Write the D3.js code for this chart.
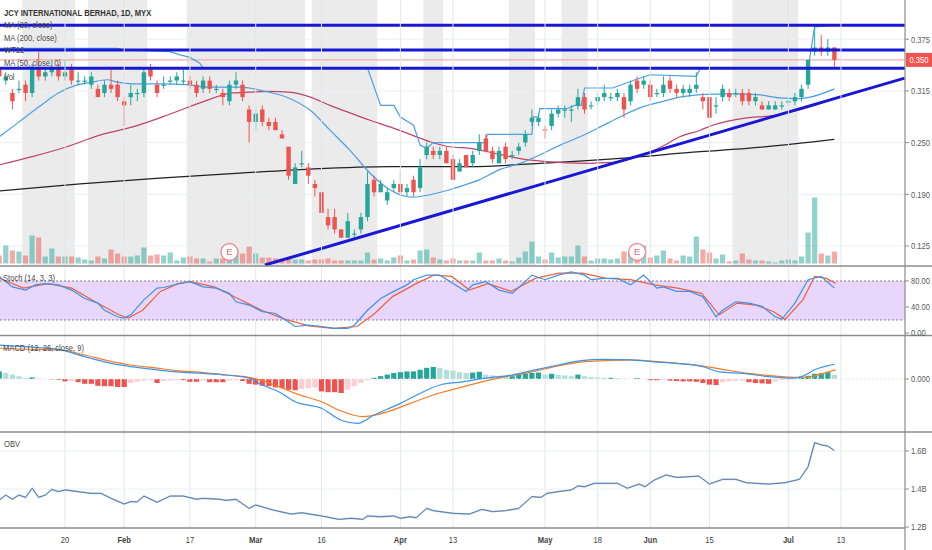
<!DOCTYPE html>
<html>
<head>
<meta charset="utf-8">
<script src="https://cdn.jsdelivr.net/npm/d3@7"></script>
<style>
body { margin: 0; background: #fff; }
text { font-family: "Liberation Sans", Arial, sans-serif; }
</style>
</head>
<body>
<div id="chart"></div>
<script>
// ---- data (bar index 0 = 6 Jan 2020, 127 = 10 Jul 2020) ----
var open = [0.340,0.325,0.310,0.315,0.320,0.310,0.340,0.330,0.335,0.340,
  0.330,0.340,0.325,0.325,0.320,0.315,0.310,0.320,0.320,0.300,
  0.305,0.310,0.310,0.340,0.320,0.320,0.325,0.325,0.325,0.325,
  0.320,0.315,0.325,0.315,0.310,0.300,0.320,0.320,0.290,0.275,
  0.290,0.275,0.275,0.260,0.245,0.200,0.225,0.220,0.200,0.190,
  0.160,0.160,0.145,0.135,0.140,0.145,0.160,0.205,0.190,0.180,
  0.195,0.200,0.190,0.205,0.195,0.235,0.240,0.235,0.240,0.230,
  0.215,0.235,0.225,0.240,0.255,0.240,0.225,0.245,0.235,0.240,
  0.250,0.275,0.275,0.266,0.270,0.285,0.290,0.290,0.295,0.305,
  0.295,0.300,0.305,0.305,0.305,0.305,0.300,0.325,0.320,0.320,
  0.310,0.310,0.325,0.315,0.310,0.310,0.315,0.305,0.305,0.295,
  0.305,0.310,0.310,0.310,0.310,0.300,0.295,0.290,0.290,0.295,
  0.300,0.300,0.305,0.320,0.360,0.365,0.360,0.365];
var high = [0.345,0.335,0.315,0.325,0.325,0.345,0.360,0.340,0.350,0.345,
  0.350,0.345,0.335,0.330,0.335,0.320,0.325,0.340,0.325,0.305,
  0.320,0.315,0.340,0.345,0.325,0.330,0.330,0.335,0.340,0.330,
  0.325,0.330,0.330,0.320,0.315,0.325,0.335,0.325,0.295,0.290,
  0.295,0.280,0.280,0.265,0.245,0.225,0.240,0.225,0.205,0.190,
  0.170,0.170,0.145,0.165,0.145,0.165,0.215,0.210,0.205,0.195,
  0.205,0.215,0.200,0.210,0.230,0.250,0.245,0.245,0.245,0.235,
  0.230,0.235,0.240,0.260,0.260,0.245,0.245,0.250,0.240,0.250,
  0.265,0.290,0.285,0.270,0.290,0.295,0.295,0.295,0.315,0.310,
  0.300,0.310,0.320,0.310,0.315,0.310,0.325,0.330,0.330,0.325,
  0.315,0.330,0.330,0.320,0.320,0.320,0.335,0.310,0.305,0.305,
  0.320,0.315,0.315,0.315,0.315,0.310,0.300,0.300,0.300,0.300,
  0.305,0.310,0.320,0.350,0.390,0.380,0.375,0.365];
var low = [0.325,0.320,0.290,0.310,0.300,0.305,0.325,0.325,0.330,0.325,
  0.325,0.320,0.320,0.320,0.315,0.305,0.305,0.310,0.300,0.270,
  0.295,0.300,0.305,0.325,0.305,0.315,0.320,0.320,0.320,0.315,
  0.305,0.310,0.310,0.310,0.295,0.295,0.315,0.300,0.250,0.265,
  0.270,0.265,0.265,0.255,0.205,0.200,0.220,0.200,0.185,0.165,
  0.145,0.140,0.135,0.135,0.135,0.140,0.155,0.185,0.190,0.175,
  0.190,0.185,0.185,0.185,0.190,0.230,0.230,0.230,0.225,0.205,
  0.215,0.220,0.220,0.235,0.240,0.225,0.225,0.225,0.230,0.235,
  0.245,0.270,0.270,0.255,0.265,0.280,0.280,0.275,0.290,0.285,
  0.290,0.295,0.300,0.300,0.300,0.280,0.295,0.310,0.315,0.300,
  0.305,0.305,0.310,0.305,0.305,0.305,0.310,0.290,0.280,0.285,
  0.300,0.300,0.305,0.295,0.295,0.295,0.290,0.290,0.290,0.290,
  0.295,0.295,0.300,0.315,0.355,0.355,0.355,0.340];
var close = [0.330,0.330,0.300,0.315,0.310,0.340,0.330,0.335,0.340,0.330,
  0.335,0.325,0.325,0.325,0.330,0.305,0.320,0.315,0.305,0.295,
  0.310,0.310,0.335,0.330,0.310,0.320,0.325,0.330,0.325,0.320,
  0.310,0.325,0.315,0.315,0.305,0.320,0.325,0.305,0.275,0.285,
  0.275,0.270,0.265,0.255,0.210,0.220,0.225,0.210,0.195,0.165,
  0.150,0.145,0.135,0.155,0.140,0.160,0.200,0.190,0.200,0.190,
  0.200,0.190,0.195,0.190,0.220,0.245,0.235,0.240,0.225,0.205,
  0.225,0.220,0.235,0.250,0.240,0.230,0.240,0.230,0.235,0.245,
  0.260,0.280,0.280,0.265,0.285,0.290,0.290,0.290,0.305,0.290,
  0.295,0.305,0.310,0.305,0.310,0.290,0.320,0.315,0.325,0.305,
  0.310,0.320,0.315,0.310,0.315,0.315,0.320,0.300,0.280,0.295,
  0.315,0.305,0.310,0.300,0.300,0.305,0.290,0.295,0.295,0.295,
  0.300,0.305,0.315,0.350,0.365,0.360,0.365,0.350];
var volume = [8,18,13,12,8,28,26,7,15,7, 7,7,6,4,3,7,5,14,10,7,
  7,8,16,8,9,8,11,3,6,7, 5,5,2,5,5,10,14,10,17,10,
  6,6,5,5,6,4,4,3,4,4, 5,3,3,3,3,3,11,4,5,3,
  6,8,3,4,13,14,6,4,3,5, 3,3,3,11,3,3,5,3,2,6,
  12,22,7,4,11,6,7,7,18,7, 3,5,5,4,5,12,13,10,18,6,
  8,13,5,3,8,7,27,14,11,5, 9,2,3,10,4,3,3,2,1,3,
  4,3,7,31,66,10,8,12];

var tickIndex = [10,19,29,39,49,61,69,83,91,99,108,120,128];
var tickLabel = ["20","Feb","17","Mar","16","Apr","13","May","18","Jun","15","Jul","13"];
var priceTicks = [0.125,0.1875,0.25,0.3125,0.375];
var priceTickLabels = ["0.125","0.190","0.250","0.315","0.375"];
var lastPrice = 0.350;

var ma20 = [[0,0.257],[3,0.275],[6,0.293],[9,0.310],[12,0.320],[14,0.323],[16.4,0.326],[18,0.323],
  [20.3,0.321],[24.4,0.321],[28.5,0.320],[31.6,0.317],[36.6,0.317],[38,0.316],[41,0.311],[44,0.304],
  [47.3,0.289],[50.3,0.265],[53.3,0.241],[56.4,0.213],[59.4,0.193],[62.9,0.184],[65.5,0.187],[68.5,0.193],
  [71.6,0.201],[73,0.205],[76,0.217],[79.2,0.225],[82.2,0.235],[85.3,0.247],[88.3,0.257],[91.4,0.269],
  [94.4,0.281],[97.4,0.292],[100.5,0.299],[103.5,0.305],[106.6,0.308],[111,0.309],[115.2,0.308],
  [118.7,0.304],[121.3,0.303],[123.3,0.305],[127,0.315]];
var ma50 = [[0,0.223],[5,0.233],[10.3,0.245],[15.3,0.259],[20.3,0.269],[25.5,0.283],[30.5,0.298],
  [35.5,0.310],[38,0.311],[41,0.312],[44,0.311],[47.3,0.305],[50.3,0.295],[53.3,0.286],[56.4,0.277],
  [59.4,0.269],[62.5,0.260],[65.5,0.251],[68.5,0.245],[71.6,0.243],[76,0.236],[79,0.231],[83.3,0.227],
  [89.4,0.225],[93.3,0.226],[97.4,0.234],[100.5,0.244],[103.5,0.257],[106.6,0.265],[108.5,0.271],
  [113.7,0.280],[117,0.282],[122,0.290],[127,0.303]];
var ma200 = [[0,0.1915],[12.3,0.200],[24.4,0.207],[36.6,0.213],[47.3,0.218],[59.4,0.221],[71.6,0.221],
  [82.2,0.225],[94.4,0.231],[106.6,0.239],[113.7,0.243],[127,0.254]];
var wt12 = [[0,0.364],[18,0.364],[19,0.362],[26,0.360],[27.5,0.356],[29,0.353],[30.5,0.346],[31,0.340],
  [56,0.340],[58,0.295],[60,0.295],[61,0.281],[63,0.271],[64,0.247],[65,0.243],[66,0.250],[74,0.250],
  [74.2,0.260],[81,0.260],[81.2,0.281],[82,0.281],[82.2,0.291],[86.3,0.291],[87.5,0.295],[88.5,0.295],
  [89,0.316],[93.3,0.316],[96.7,0.326],[99,0.332],[106,0.330],[106.6,0.340],[123,0.340],[124,0.390],[127,0.392]];
var levels = [0.392,0.362,0.340];
var trendline = [[40.4,0.102],[137.7,0.328]];
var bands = [[4,11],[14,22],[29,46],[48,57],[65,67],[78,81],[86,89],[112,121]];
var earnings = [35,97];

var stochK = [[0,87],[2,71],[4,66],[5.5,74],[7,76],[9,74],[11,66],[13,53],[15,46],[16,35],[18,25],[19,23],
  [20,28],[22,51],[24,69],[25,70],[27,75],[29,79],[31,71],[33,69],[35,61],[36,48],[38,43],[40,33],[42,30],
  [44,17],[45,10],[47,12],[49,10],[51,7],[53,7],[54,12],[56,35],[58,53],[60,64],[62,74],[63,82],[65,89],
  [67,89],[69,76],[71,64],[72,74],[74,79],[76,66],[78,61],[80,79],[81,89],[83,82],[85,89],[87,94],[89,89],
  [90,82],[92,84],[94,84],[96,74],[98,89],[100,69],[101,71],[103,64],[105,64],[107,56],[109,25],[110,35],
  [112,48],[114,46],[116,41],[118,25],[119,21],[121,46],[123,82],[125,87],[127,69]];
var stochD = [[0,84],[3.7,69],[7.4,76],[11,69],[14.6,48],[18.2,28],[19.6,23],[21.8,35],[24.5,64],[27.2,76],
  [29,79],[32.7,71],[36.3,53],[39.9,35],[43.5,21],[47.1,11],[50.8,7],[54.4,10],[57.1,30],[59.8,56],[63.4,76],
  [66.1,89],[68.8,87],[71.5,66],[74.3,76],[77.9,64],[81.5,84],[85.1,92],[88.7,92],[92.3,84],[96,82],[99.6,74],
  [103.2,69],[106.8,61],[109.5,28],[112.2,46],[115,43],[117.7,33],[119.5,21],[122.2,51],[124,87],[125.8,84],[127.2,76]];

var macdLine = [[0,.0085],[5.5,.0079],[9,.0074],[13,.0056],[16,.0043],[20,.0031],[24,.0023],[27,.0018],
  [31,.0014],[34.5,.0010],[38,.0002],[40,-.0015],[42.5,-.0032],[45,-.0057],[49,-.0073],[52,-.0103],
  [54.5,-.0111],[57,-.0090],[61,-.0061],[63.5,-.0040],[67,-.0015],[70.5,-.0007],[74,.0002],[78,.0010],
  [81.5,.0023],[85,.0035],[88.5,.0046],[92,.0049],[96,.0048],[99.5,.0043],[103,.0039],[107,.0031],
  [109.5,.0018],[113,.0014],[117,.0006],[120.5,.0002],[122,.0006],[124,.0023],[126.5,.0035],[127,.0037]];
var macdSignal = [[0,.0077],[5.5,.0074],[9,.0073],[13,.0060],[16,.0048],[20,.0035],[24,.0027],[27,.0021],
  [31,.0016],[34.5,.0010],[38,.0004],[40,-.0004],[42.5,-.0019],[45,-.0036],[49,-.0057],[51.7,-.0078],
  [55.3,-.0094],[59,-.0082],[62.5,-.0061],[66,-.0040],[69.7,-.0023],[73.4,-.0007],[77,.0006],[80.6,.0016],
  [85,.0033],[88.7,.0043],[92.3,.0046],[96,.0048],[99.6,.0044],[103.2,.0039],[106.8,.0033],[110.4,.0023],
  [114,.0014],[117.7,.0008],[121.3,.0004],[124,.0008],[126.7,.0021],[127.2,.0023]];
var macdHist = [.0019,.0015,.0011,.0007,.0003,.0004,.0001,.0000,-.0001,-.0002,
  -.0006,-.0005,-.0008,-.0012,-.0012,-.0017,-.0018,-.0018,-.0020,-.0020,
  -.0010,-.0007,-.0004,-.0003,-.0010,-.0005,-.0004,-.0003,-.0003,-.0007,
  -.0007,-.0004,-.0008,-.0008,-.0008,-.0004,-.0003,-.0005,-.0012,-.0014,
  -.0017,-.0018,-.0021,-.0023,-.0027,-.0028,-.0025,-.0023,-.0021,-.0031,
  -.0033,-.0033,-.0035,-.0027,-.0018,-.0010,-.0003,.0003,.0007,.0011,
  .0015,.0017,.0019,.0019,.0023,.0028,.0030,.0028,.0023,.0021,
  .0017,.0015,.0016,.0018,.0011,.0009,.0008,.0007,.0007,.0011,
  .0013,.0015,.0016,.0011,.0013,.0010,.0009,.0007,.0011,.0007,
  .0005,.0004,.0003,.0003,.0002,.0001,.0000,.0002,.0000,-.0003,
  -.0003,-.0002,-.0004,-.0005,-.0006,-.0006,-.0007,-.0010,-.0014,-.0015,
  -.0008,-.0006,-.0005,-.0004,-.0008,-.0010,-.0011,-.0012,-.0006,-.0003,
  -.0002,-.0001,.0003,.0008,.0013,.0015,.0017,.0011];

var obv = [[0,1.342],[1,1.368],[2,1.346],[3,1.368],[4,1.356],[5,1.404],[6,1.356],[7,1.368],[8,1.398],
  [9,1.386],[10,1.395],[12,1.386],[14,1.377],[15.5,1.377],[17,1.351],[19,1.321],[20,1.333],[21,1.333],
  [22,1.363],[24,1.330],[26,1.363],[28,1.363],[30,1.346],[31,1.351],[33.5,1.346],[34.5,1.340],[36,1.346],
  [38,1.298],[39,1.316],[41.7,1.289],[44.4,1.268],[46,1.275],[49,1.258],[51.7,1.240],[53.5,1.246],
  [55.3,1.240],[56,1.258],[58,1.254],[60,1.258],[61,1.246],[62.5,1.254],[63.4,1.249],[65,1.298],[66,1.286],
  [69,1.272],[71.5,1.268],[73.4,1.293],[75,1.281],[77,1.286],[79,1.298],[81,1.360],[82.4,1.356],[83.3,1.377],
  [85,1.386],[87,1.395],[88,1.416],[89,1.412],[90.5,1.430],[94,1.430],[95.5,1.404],[97.3,1.426],[98.2,1.412],
  [99.6,1.447],[101.4,1.474],[103,1.461],[105,1.465],[106.4,1.468],[108,1.426],[110,1.451],[112,1.451],
  [113.6,1.433],[117,1.426],[119.5,1.433],[121.7,1.451],[123,1.517],[124,1.644],[125,1.632],[126,1.626],[127,1.602]];

// ---- layout ----
var chart_width = 932, chart_height = 550;
var plot_right = 905;
var up_col = "#26a69a", down_col = "#ef5350";
var line_blue = "#1717d6";

var x = d3.scaleLinear().domain([0, 128]).range([-0.76, 840.97]);
var yPrice = d3.scaleLinear().domain([0.125, 0.375]).range([246, 39.2]);
var yVol = d3.scaleLinear().domain([0, 66]).range([263.5, 197.5]);
var yStoch = d3.scaleLinear().domain([0, 100]).range([333, 268]);
var yMacd = d3.scaleLinear().domain([0, 0.01]).range([379, 339]);
var yObv = d3.scaleLinear().domain([1.2, 1.6]).range([527, 451]);

var svg = d3.select("#chart").append("svg")
  .attr("width", chart_width).attr("height", chart_height)
  .style("display", "block");

var defs = svg.append("defs");
function clip(id, y0, y1){
  defs.append("clipPath").attr("id", id).append("rect")
    .attr("x", 0).attr("y", y0).attr("width", plot_right).attr("height", y1 - y0);
}
clip("c-main", 0, 266); clip("c-stoch", 267, 335); clip("c-macd", 336, 432); clip("c-obv", 433, 528);

// squeezed text, like the screenshot
function label(parent, px, py, s, o){
  o = o || {};
  return parent.append("text")
    .attr("transform", "translate(" + px + "," + py + ") scale(0.8,1)")
    .attr("text-anchor", o.anchor || "start")
    .attr("font-size", o.size || 9.5)
    .attr("font-weight", o.weight || "normal")
    .attr("fill", o.color || "#4a4a4a")
    .text(s);
}

// ---- main pane ----
var main = svg.append("g").attr("clip-path", "url(#c-main)");

main.selectAll("rect.band").data(bands).enter().append("rect")
  .attr("x", function(d){ return x(d[0] - 0.5); })
  .attr("width", function(d){ return x(d[1] + 0.5) - x(d[0] - 0.5); })
  .attr("y", 0).attr("height", 266).attr("fill", "#ebebeb");

// grid
svg.append("g").selectAll("line").data(tickIndex).enter().append("line")
  .attr("x1", function(d){ return x(d); }).attr("x2", function(d){ return x(d); })
  .attr("y1", 0).attr("y2", 528).attr("stroke", "#e3e6eb").attr("stroke-width", 1);
main.selectAll("line.hg").data(priceTicks).enter().append("line")
  .attr("x1", 0).attr("x2", plot_right)
  .attr("y1", function(d){ return yPrice(d); }).attr("y2", function(d){ return yPrice(d); })
  .attr("stroke", "#eceef2");

var idx = d3.range(open.length);

// volume
main.selectAll("rect.vol").data(idx).enter().append("rect")
  .attr("x", function(i){ return x(i) - 2.6; }).attr("width", 5.2)
  .attr("y", function(i){ return yVol(volume[i]); })
  .attr("height", function(i){ return yVol(0) - yVol(volume[i]); })
  .attr("fill", function(i){ return close[i] >= open[i] ? up_col : down_col; })
  .attr("fill-opacity", 0.5);

// earnings badges
var eb = main.selectAll("g.e").data(earnings).enter().append("g")
  .attr("transform", function(d){ return "translate(" + x(d) + ",252)"; });
eb.append("circle").attr("r", 8.5).attr("fill", "#fff").attr("stroke", "#f08c99").attr("stroke-width", 1.4);
eb.append("text").attr("text-anchor", "middle").attr("y", 3.4).attr("font-size", 9.5)
  .attr("fill", "#ee6b7a").text("E");

// last price line
main.append("line").attr("x1", 0).attr("x2", plot_right)
  .attr("y1", yPrice(lastPrice)).attr("y2", yPrice(lastPrice))
  .attr("stroke", "#f29a9a").attr("stroke-width", 1);

var smooth = d3.line().x(function(d){ return x(d[0]); }).y(function(d){ return yPrice(d[1]); })
  .curve(d3.curveMonotoneX);
var straight = d3.line().x(function(d){ return x(d[0]); }).y(function(d){ return yPrice(d[1]); });

main.append("path").attr("d", smooth(ma200)).attr("fill", "none").attr("stroke", "#222").attr("stroke-width", 1.3);
main.append("path").attr("d", smooth(ma50)).attr("fill", "none").attr("stroke", "#c04366").attr("stroke-width", 1.2);
main.append("path").attr("d", smooth(ma20)).attr("fill", "none").attr("stroke", "#4a9fe6").attr("stroke-width", 1.2);
main.append("path").attr("d", straight(wt12)).attr("fill", "none").attr("stroke", "#4a9fe6").attr("stroke-width", 1.2);

// candles
var candle = main.selectAll("g.candle").data(idx).enter().append("g")
  .attr("fill", function(i){ return close[i] >= open[i] ? up_col : down_col; })
  .attr("stroke", function(i){ return close[i] >= open[i] ? up_col : down_col; });
candle.append("line")
  .attr("x1", function(i){ return x(i); }).attr("x2", function(i){ return x(i); })
  .attr("y1", function(i){ return yPrice(high[i]); }).attr("y2", function(i){ return yPrice(low[i]); })
  .attr("stroke-width", 1);
candle.append("rect")
  .attr("stroke", "none")
  .attr("x", function(i){ return x(i) - 2.2; }).attr("width", 4.4)
  .attr("y", function(i){ return yPrice(Math.max(open[i], close[i])); })
  .attr("height", function(i){ return Math.max(1.2, Math.abs(yPrice(open[i]) - yPrice(close[i]))); });

// legend (lines are drawn over it in the picture)
label(svg, 4, 15.5, "JCY INTERNATIONAL BERHAD, 1D, MYX", {weight: "bold", size: 9.5, color: "#333"});
label(svg, 4, 27.8, "MA (20, close)");
label(svg, 4, 40.6, "MA (200, close)");
label(svg, 4, 53.4, "WT12");
label(svg, 4, 66, "MA (50, close, 0)");
label(svg, 4, 79.8, "Vol");

// drawn levels and trendline
main.selectAll("line.lvl").data(levels).enter().append("line")
  .attr("x1", 0).attr("x2", plot_right)
  .attr("y1", function(d){ return yPrice(d); }).attr("y2", function(d){ return yPrice(d); })
  .attr("stroke", line_blue).attr("stroke-width", 3);
main.append("path").attr("d", straight(trendline)).attr("fill", "none")
  .attr("stroke", line_blue).attr("stroke-width", 3);

// ---- stochastic ----
var st = svg.append("g").attr("clip-path", "url(#c-stoch)");
st.append("rect").attr("x", 0).attr("width", plot_right)
  .attr("y", yStoch(80)).attr("height", yStoch(20) - yStoch(80)).attr("fill", "#e9d7fb");
st.selectAll("line.lv").data([80, 20]).enter().append("line")
  .attr("x1", 0).attr("x2", plot_right)
  .attr("y1", function(d){ return yStoch(d); }).attr("y2", function(d){ return yStoch(d); })
  .attr("stroke", "#857a96").attr("stroke-dasharray", "2,2");
var stLine = d3.line().x(function(d){ return x(d[0]); }).y(function(d){ return yStoch(d[1]); });
st.append("path").attr("d", stLine(stochD)).attr("fill", "none").attr("stroke", "#f0603e").attr("stroke-width", 1.2);
st.append("path").attr("d", stLine(stochK)).attr("fill", "none").attr("stroke", "#3c93e8").attr("stroke-width", 1.2);
label(svg, 3, 280.5, "Stoch (14, 3, 3)");

// ---- MACD ----
var mc = svg.append("g").attr("clip-path", "url(#c-macd)");
mc.selectAll("rect.h").data(idx).enter().append("rect")
  .attr("x", function(i){ return x(i) - 2.6; }).attr("width", 5.2)
  .attr("y", function(i){ return Math.min(yMacd(0), yMacd(macdHist[i])); })
  .attr("height", function(i){ return Math.abs(yMacd(macdHist[i]) - yMacd(0)); })
  .attr("fill", function(i){
    var v = macdHist[i], p = i > 0 ? macdHist[i - 1] : v;
    if (v >= 0) return v >= p ? "#26a69a" : "#b2dfdb";
    return v <= p ? "#ef5350" : "#ffcdd2";
  });
mc.append("line").attr("x1", 0).attr("x2", plot_right).attr("y1", yMacd(0)).attr("y2", yMacd(0))
  .attr("stroke", "#e6e6e6").attr("stroke-dasharray", "2,2");
var mLine = d3.line().x(function(d){ return x(d[0]); }).y(function(d){ return yMacd(d[1]); })
  .curve(d3.curveMonotoneX);
mc.append("path").attr("d", mLine(macdSignal)).attr("fill", "none").attr("stroke", "#f57c28").attr("stroke-width", 1.2);
mc.append("path").attr("d", mLine(macdLine)).attr("fill", "none").attr("stroke", "#3c93e8").attr("stroke-width", 1.2);
label(svg, 3, 351, "MACD (12, 26, close, 9)");

// ---- OBV ----
var ob = svg.append("g").attr("clip-path", "url(#c-obv)");
ob.selectAll("line.g").data([1.6, 1.4]).enter().append("line")
  .attr("x1", 0).attr("x2", plot_right)
  .attr("y1", function(d){ return yObv(d); }).attr("y2", function(d){ return yObv(d); })
  .attr("stroke", "#eceef2");
var oLine = d3.line().x(function(d){ return x(d[0]); }).y(function(d){ return yObv(d[1]); });
ob.append("path").attr("d", oLine(obv)).attr("fill", "none").attr("stroke", "#b9d3ee").attr("stroke-width", 1.8);
ob.append("path").attr("d", oLine(obv)).attr("fill", "none").attr("stroke", "#50709c").attr("stroke-width", 0.9);
label(svg, 4, 447, "OBV");

// ---- separators and right axis ----
svg.selectAll("line.sep").data([266, 335.5, 432]).enter().append("line")
  .attr("x1", 0).attr("x2", chart_width).attr("y1", function(d){ return d; }).attr("y2", function(d){ return d; })
  .attr("stroke", "#8c8c8c").attr("stroke-width", 1.6);
svg.append("line").attr("x1", 0).attr("x2", plot_right).attr("y1", 528).attr("y2", 528)
  .attr("stroke", "#8c8c8c").attr("stroke-width", 1.6);
svg.append("line").attr("x1", plot_right).attr("x2", plot_right).attr("y1", 0).attr("y2", chart_height)
  .attr("stroke", "#8c8c8c").attr("stroke-width", 1.2);

var axisTicks = [];
priceTicks.forEach(function(v, k){ axisTicks.push([yPrice(v), priceTickLabels[k]]); });
[80, 40, 0].forEach(function(v){ axisTicks.push([yStoch(v), d3.format(".2f")(v)]); });
axisTicks.push([yMacd(0), "0.000"]);
[1.6, 1.4, 1.2].forEach(function(v){ axisTicks.push([yObv(v), d3.format(".1f")(v) + "B"]); });
axisTicks.forEach(function(t){
  svg.append("line").attr("x1", plot_right).attr("x2", plot_right + 4).attr("y1", t[0]).attr("y2", t[0])
    .attr("stroke", "#8c8c8c");
  label(svg, plot_right + 6, t[0] + 3.3, t[1], {color: "#5a5a5a"});
});

// last price tag
svg.append("rect").attr("x", plot_right + 1).attr("y", yPrice(lastPrice) - 7).attr("width", 26).attr("height", 14)
  .attr("fill", "#ef5350");
label(svg, plot_right + 14, yPrice(lastPrice) + 3.4, d3.format(".3f")(lastPrice), {anchor: "middle", color: "#fff"});

// x axis labels
tickIndex.forEach(function(d, k){
  var isMonth = isNaN(+tickLabel[k]);
  label(svg, x(d), 543, tickLabel[k], {anchor: "middle", weight: isMonth ? "bold" : "normal", color: "#444"});
});
</script>
</body>
</html>
